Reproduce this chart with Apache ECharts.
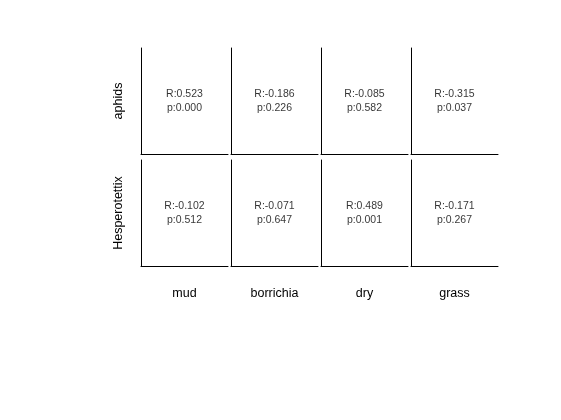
<!DOCTYPE html>
<html>
<head>
<meta charset="utf-8">
<script src="https://cdn.jsdelivr.net/npm/echarts@6/dist/echarts.min.js"></script>
<style>html,body{margin:0;padding:0;background:#fff}#c{width:561px;height:420px}</style>
</head>
<body>
<div id="c"></div>
<script>
var rowNames = ['aphids', 'Hesperotettix'];
var colNames = ['mud', 'borrichia', 'dry', 'grass'];
var rValues = [
  [0.523, -0.186, -0.085, -0.315],
  [-0.102, -0.071, 0.489, -0.171]
];
var pValues = [
  [0.000, 0.226, 0.582, 0.037],
  [0.512, 0.647, 0.001, 0.267]
];

var chart = echarts.init(document.getElementById('c'), null, {renderer: 'canvas'});
var grids = [], xAxes = [], yAxes = [], series = [];
var font = 'Arial, "Liberation Sans", sans-serif';
var idx = 0;
for (var r = 0; r < rowNames.length; r++) {
  for (var c = 0; c < colNames.length; c++) {
    grids.push({left: 141 + 90 * c, top: 48 + 112 * r, width: 87, height: 106});
    xAxes.push({
      gridIndex: idx, type: 'value', min: 0, max: 1,
      axisLine: {show: true, lineStyle: {color: '#000', width: 1}},
      axisTick: {show: false}, axisLabel: {show: false}, splitLine: {show: false},
      name: r === rowNames.length - 1 ? colNames[c] : '',
      nameLocation: 'middle', nameGap: 21,
      nameTextStyle: {color: '#000', fontSize: 12.5, fontFamily: font}
    });
    yAxes.push({
      gridIndex: idx, type: 'value', min: 0, max: 1,
      axisLine: {show: true, lineStyle: {color: '#000', width: 1}},
      axisTick: {show: false}, axisLabel: {show: false}, splitLine: {show: false},
      name: c === 0 ? rowNames[r] : '',
      nameLocation: 'middle', nameGap: 16, nameRotate: 90,
      nameTextStyle: {color: '#000', fontSize: 12.5, fontFamily: font}
    });
    series.push({
      type: 'scatter', xAxisIndex: idx, yAxisIndex: idx,
      symbolSize: 0, silent: true,
      data: [[0.5, 0.5, rValues[r][c], pValues[r][c]]],
      label: {
        show: true, position: 'inside', color: '#000',
        fontSize: 10.5, fontFamily: font, lineHeight: 14,
        formatter: function (p) {
          return 'R:' + p.value[2].toFixed(3) + '\np:' + p.value[3].toFixed(3);
        }
      }
    });
    idx++;
  }
}
chart.setOption({
  animation: false,
  backgroundColor: '#fff',
  grid: grids, xAxis: xAxes, yAxis: yAxes, series: series
});
</script>
</body>
</html>
